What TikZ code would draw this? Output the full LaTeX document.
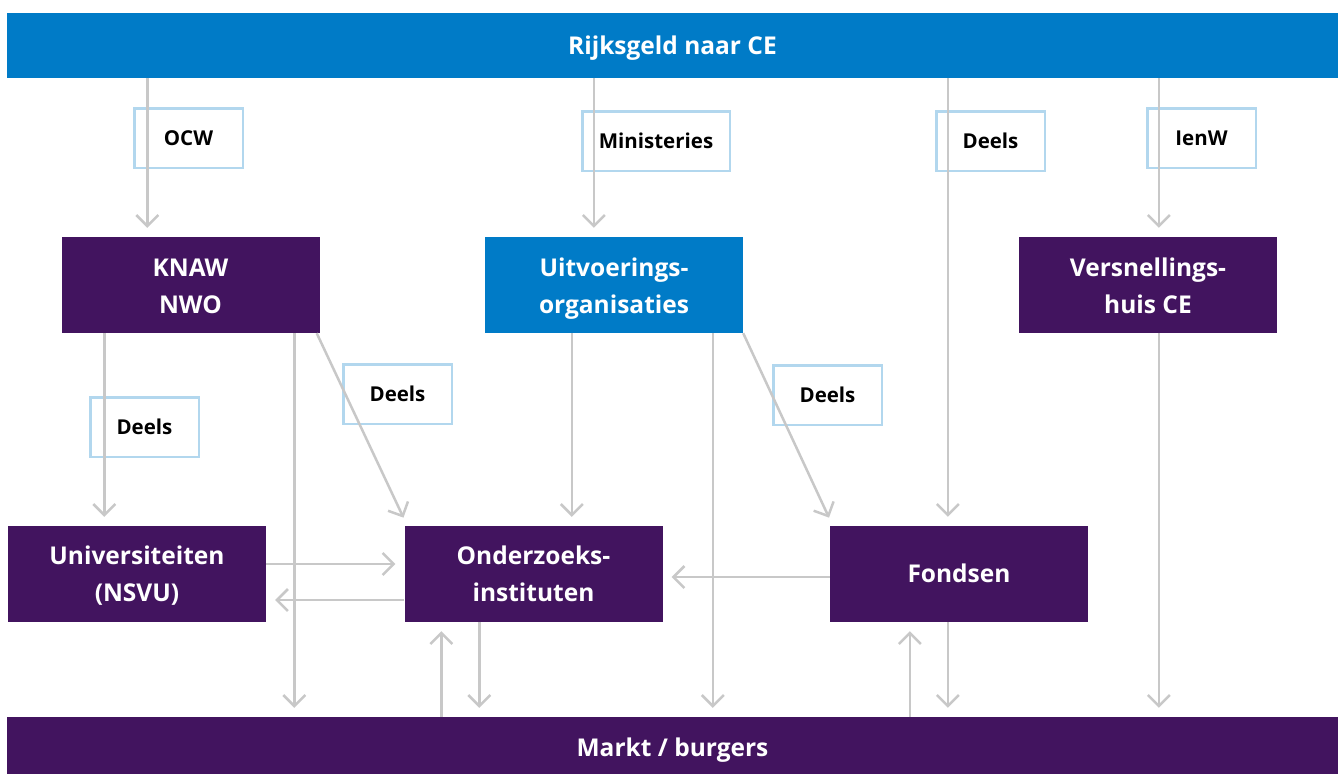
\documentclass[tikz,border=0pt]{standalone}
\usepackage{fontspec}
\setmainfont{Open Sans}
\usetikzlibrary{arrows.meta}
\definecolor{rvpurple}{HTML}{42145F}
\definecolor{rvblue}{HTML}{007BC7}
\definecolor{rvlight}{HTML}{B2D7EE}
\definecolor{flowgray}{HTML}{C8C8C8}
\tikzset{
  bar/.style={rectangle, inner sep=0pt, minimum width=1331pt, text=white,
    text depth=0pt, font=\fontsize{24.5}{30}\selectfont\bfseries},
  unit/.style={rectangle, fill=rvpurple, inner sep=0pt, minimum width=258pt,
    minimum height=96pt, text=white, align=center,
    font=\fontsize{24.5}{37}\selectfont\bfseries},
  oneline/.style={text height=17.5pt, text depth=0pt},
  twoline/.style={text height=#1, text depth=0pt},
  tag/.style={rectangle, draw=rvlight, line width=2.5pt, fill=white, inner sep=0pt,
    minimum width=108.5pt, minimum height=59.5pt, text height=14.6pt, text depth=0pt,
    font=\fontsize{20.5}{25}\selectfont\bfseries},
  flow/.style={draw=flowgray, line width=2.5pt, shorten >=9pt,
    -{Straight Barb[length=11pt,width=22pt,line width=2.5pt]}},
}
\begin{document}
\begin{tikzpicture}[x=1pt,y=-1pt]
\useasboundingbox (0,0) rectangle (1340,774);

% funding source and end receivers
\node[bar, fill=rvblue, minimum height=65pt, text height=18.5pt] (top) at (672.5,45.5) {Rijksgeld naar CE};
\node[bar, fill=rvpurple, minimum height=57pt, text height=22.5pt] (bottom) at (672.5,745.5) {Markt / burgers};

% organisations
\node[unit, twoline=57pt] (knaw) at (190.5,285) {KNAW\\NWO};
\node[unit, twoline=57pt, fill=rvblue] (uitv) at (614,285) {Uitvoerings-\\organisaties};
\node[unit, twoline=57pt] (vers) at (1148,285) {Versnellings-\\huis CE};
\node[unit, twoline=54.5pt] (univ) at (137,574) {Universiteiten\\(NSVU)};
\node[unit, twoline=54.5pt] (onder) at (533.5,574) {Onderzoeks-\\instituten};
\node[unit, oneline] (fonds) at (959,574) {Fondsen};

% flow labels
\node[tag] (ocw) at (188.5,138) {OCW};
\node[tag, minimum width=147.5pt] (mini) at (656,141) {Ministeries};
\node[tag] (deelsA) at (990.5,141) {Deels};
\node[tag] (ienw) at (1201.5,138) {IenW};
\node[tag] (deelsB) at (144.5,427) {Deels};
\node[tag] (deelsC) at (397.5,394) {Deels};
\node[tag] (deelsD) at (827.5,395) {Deels};

% money flows from the top bar
\draw[flow] ([xshift=86pt]knaw.north west |- top.south) -- ([xshift=86pt]knaw.north west);
\draw[flow] ([xshift=109pt]uitv.north west |- top.south) -- ([xshift=109pt]uitv.north west);
\draw[flow] ([xshift=118pt]fonds.north west |- top.south) -- ([xshift=118pt]fonds.north west);
\draw[flow] ([xshift=140pt]vers.north west |- top.south) -- ([xshift=140pt]vers.north west);

% from KNAW / NWO
\draw[flow] ([xshift=43pt]knaw.south west) -- ([xshift=43pt]knaw.south west |- univ.north);
\draw[flow] ([xshift=233pt]knaw.south west) -- ([xshift=233pt]knaw.south west |- bottom.north);
\draw[flow] ([xshift=-3pt]knaw.south east) -- ([xshift=3pt]onder.north west);

% from uitvoeringsorganisaties
\draw[flow] ([xshift=87pt]uitv.south west) -- ([xshift=87pt]uitv.south west |- onder.north);
\draw[flow] ([xshift=228pt]uitv.south west) -- ([xshift=228pt]uitv.south west |- bottom.north);
\draw[flow] (uitv.south east) -- ([xshift=3pt]fonds.north west);

% from Versnellingshuis
\draw[flow] ([xshift=140pt]vers.south west) -- ([xshift=140pt]vers.south west |- bottom.north);

% between universities, institutes and funds
\draw[flow] ([yshift=10pt]univ.east) -- ([yshift=10pt]univ.east -| onder.west);
\draw[flow] ([yshift=-26pt]onder.west) -- ([yshift=-26pt]onder.west -| univ.east);
\draw[flow] ([yshift=-3pt]fonds.west) -- ([yshift=-3pt]fonds.west -| onder.east);

% exchanges with the market
\draw[flow] ([xshift=37pt]onder.south west |- bottom.north) -- ([xshift=37pt]onder.south west);
\draw[flow] ([xshift=75pt]onder.south west) -- ([xshift=75pt]onder.south west |- bottom.north);
\draw[flow] ([xshift=80pt]fonds.south west |- bottom.north) -- ([xshift=80pt]fonds.south west);
\draw[flow] ([xshift=118pt]fonds.south west) -- ([xshift=118pt]fonds.south west |- bottom.north);
\end{tikzpicture}
\end{document}
